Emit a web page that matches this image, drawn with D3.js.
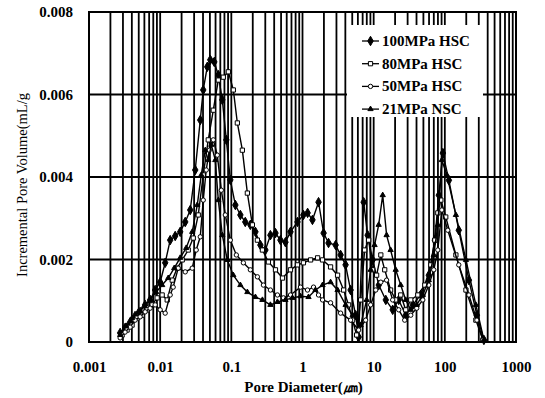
<!DOCTYPE html>
<html>
<head>
<meta charset="utf-8">
<script src="https://cdn.jsdelivr.net/npm/d3@7"></script>
<style>
html,body{margin:0;padding:0;background:#fff;}
svg{display:block;}
text{font-family:"Liberation Serif","Times New Roman",serif;font-weight:bold;fill:#000;}
</style>
</head>
<body>
<svg id="chart" width="545" height="398"></svg>
<script>
// ---- data (pore diameter in µm, incremental pore volume in mL/g) ----
const seriesNames = ["100MPa HSC", "80MPa HSC", "50MPa HSC", "21MPa NSC"];

const dA = [0.00274,0.00321,0.00378,0.00444,0.00523,0.00615,0.00723,0.0085,0.01,0.01176,
 0.01383,0.01626,0.01913,0.0225,0.02646,0.0311,0.0366,0.0403,0.0459,0.0506,
 0.0576,0.0656,0.0747,0.0851,0.0968,0.114,0.134,0.157,0.185,0.218,
 0.256,0.301,0.354,0.417,0.49,0.576,0.678,0.85,1.03,1.18,
 1.38,1.68,1.98,2.32,2.92,3.43,4.03,4.74,5.58,6.15,
 7.23,8.23,9.68,11.8,14.8,18.5,22.5,28.2,35.4,45.9,
 59.5,72.3,82.3,93.8,114,157,218,282,354];
const vA = [0.00022,0.00034,0.00048,0.00063,0.00073,0.0009,0.00102,0.00126,0.00145,0.00192,
 0.00247,0.00257,0.00267,0.00291,0.0032,0.00417,0.00538,0.00611,0.00667,0.00684,
 0.00679,0.00647,0.00587,0.0049,0.00393,0.00332,0.00308,0.00291,0.00284,0.00267,
 0.00235,0.00223,0.00259,0.00264,0.00247,0.00242,0.00267,0.00291,0.00308,0.00313,
 0.00296,0.00339,0.00264,0.0024,0.00235,0.00211,0.00187,0.00126,0.00065,0.00012,
 0.00339,0.00259,0.00199,0.00138,0.00102,0.00078,0.00102,0.00065,0.0009,0.00114,
 0.00162,0.00247,0.00356,0.00458,0.00392,0.00271,0.0015,0.00065,0.00005];

const dB = [0.00292,0.00343,0.00403,0.00474,0.00558,0.00656,0.00771,0.00907,0.01067,0.01256,
 0.01476,0.01735,0.02042,0.0248,0.02917,0.0343,0.0403,0.0474,0.0558,0.0656,
 0.0771,0.0908,0.1067,0.1215,0.1429,0.168,0.1976,0.2323,0.2733,0.332,
 0.417,0.523,0.678,0.85,1.03,1.30,1.63,1.91,2.48,3.11,
 3.78,4.44,5.06,5.76,6.56,7.47,8.50,9.68,11.0,12.6,
 14.3,17.3,20.4,24.0,28.2,33.2,41.7,52.3,63.5,72.3,
 79.7,87.9,103,143,198,273,343];
const vB = [0.00017,0.00029,0.00041,0.00058,0.00065,0.00078,0.0009,0.00107,0.00114,0.00102,
 0.0015,0.00179,0.00199,0.00223,0.00252,0.00308,0.00405,0.0049,0.00562,0.00635,
 0.00642,0.00655,0.00611,0.00531,0.00465,0.00361,0.00284,0.00247,0.00223,0.00194,
 0.00175,0.00155,0.00175,0.00187,0.00192,0.00199,0.00204,0.00199,0.00182,0.00162,
 0.00126,0.0009,0.00053,0.00017,0.00102,0.00223,0.00247,0.00175,0.00162,0.00211,
 0.00175,0.00126,0.00102,0.00114,0.00078,0.00102,0.00114,0.00138,0.00187,0.00247,
 0.00313,0.00344,0.00303,0.00211,0.00126,0.00053,0.00005];

const dC = [0.00274,0.00321,0.00378,0.00444,0.00523,0.00615,0.00723,0.0085,0.01,0.01176,
 0.01383,0.01524,0.01793,0.0225,0.02822,0.0321,0.0366,0.0403,0.0444,0.049,
 0.0558,0.0635,0.0723,0.0823,0.0968,0.1176,0.1476,0.185,0.2323,0.2823,
 0.354,0.4444,0.54,0.678,0.937,1.176,1.429,1.679,1.913,2.48,
 3.43,4.74,6.15,7.71,9.07,10.7,12.6,15.2,18.5,22.5,
 27.3,33.2,40.3,49.0,59.5,70.0,79.7,90.7,110,157,
 218,282,343];
const vC = [0.0001,0.00024,0.00036,0.00053,0.00061,0.00073,0.00082,0.0009,0.00078,0.0007,
 0.00114,0.00133,0.00179,0.0017,0.00179,0.00223,0.00255,0.00344,0.00417,0.00465,
 0.0049,0.00453,0.00368,0.00308,0.00247,0.00211,0.00192,0.00175,0.00158,0.00138,
 0.00126,0.00114,0.00107,0.00114,0.00133,0.00126,0.00133,0.00114,0.00102,0.00095,
 0.0007,0.00053,0.00029,0.00053,0.0009,0.00126,0.00145,0.0015,0.00102,0.00078,
 0.00053,0.00065,0.00082,0.00102,0.00138,0.00175,0.00223,0.0032,0.00271,0.00187,
 0.00114,0.00053,0.00005];

const dD = [0.00274,0.00332,0.00403,0.0049,0.00595,0.00723,0.00878,0.01067,0.01297,0.01575,
 0.01913,0.02323,0.02822,0.0332,0.0378,0.043,0.0474,0.0523,0.0595,0.0656,
 0.0747,0.0879,0.1067,0.134,0.168,0.218,0.2733,0.354,0.4444,0.576,
 0.7228,0.937,1.215,1.52,1.913,2.48,3.11,4.03,5.06,6.56,
 7.97,9.07,10.3,11.76,13.4,15.2,17.3,20.4,24.0,28.2,
 33.2,40.3,49.0,59.5,70.0,79.7,90.7,106.7,143,198,
 273,354];
const vD = [0.00017,0.00039,0.00058,0.00073,0.00087,0.00102,0.00121,0.00138,0.00155,0.00179,
 0.00204,0.00228,0.00267,0.00332,0.00405,0.00465,0.00441,0.00478,0.00441,0.00344,
 0.00259,0.00199,0.00162,0.00138,0.00121,0.00109,0.00102,0.0009,0.00097,0.00102,
 0.00107,0.00111,0.00109,0.00126,0.00138,0.00145,0.00126,0.0009,0.00065,0.00041,
 0.00102,0.00175,0.00235,0.00284,0.00356,0.00259,0.00223,0.00175,0.00138,0.00102,
 0.00078,0.0009,0.00114,0.0015,0.00211,0.00284,0.00441,0.00405,0.00308,0.00199,
 0.0009,0.00005];

const xTicks = [0.001, 0.01, 0.1, 1, 10, 100, 1000];
const xTickLabels = ["0.001", "0.01", "0.1", "1", "10", "100", "1000"];
const yTicks = [0, 0.002, 0.004, 0.006, 0.008];
const yTickLabels = ["0", "0.002", "0.004", "0.006", "0.008"];
const xTitle = "Pore Diameter(\u339B)";
const yTitle = "Incremental Pore Volume(mL/g";

// ---- layout ----
const svg = d3.select("#chart");
const L = 89, R = 516, T = 12, B = 342;
const x = d3.scaleLog().domain([0.001, 1000]).range([L, R]);
const y = d3.scaleLinear().domain([0, 0.008]).range([B, T]);

// vertical grid: 1..9 in every decade
const vgrid = [];
for (let e = -3; e < 3; e++) for (let k = 1; k <= 9; k++) vgrid.push(k * Math.pow(10, e));
svg.append("g").selectAll("line").data(vgrid).join("line")
  .attr("x1", d => x(d)).attr("x2", d => x(d))
  .attr("y1", T).attr("y2", B)
  .attr("stroke", "#000").attr("stroke-width", 1.8);

svg.append("g").selectAll("line").data(yTicks.slice(1, -1)).join("line")
  .attr("x1", L).attr("x2", R)
  .attr("y1", d => y(d)).attr("y2", d => y(d))
  .attr("stroke", "#000").attr("stroke-width", 1.8);

// series
const symbols = [d3.symbolDiamond, d3.symbolSquare, d3.symbolCircle, d3.symbolTriangle];
const sizes = [26, 18, 15, 12];
const fills = ["#000", "#fff", "#fff", "#000"];
const all = [[dA, vA], [dB, vB], [dC, vC], [dD, vD]];
const line = d3.line().x(p => x(p[0])).y(p => y(p[1]));

all.forEach((s, i) => {
  const pts = s[0].map((d, j) => [d, s[1][j]]);
  const g = svg.append("g");
  g.append("path").attr("d", line(pts))
    .attr("fill", "none").attr("stroke", "#000").attr("stroke-width", 1.4);
  g.selectAll("path.m").data(pts).join("path").attr("class", "m")
    .attr("transform", p => `translate(${x(p[0])},${y(p[1])})`)
    .attr("d", d3.symbol().type(symbols[i]).size(sizes[i]))
    .attr("fill", fills[i]).attr("stroke", "#000").attr("stroke-width", 1);
});

// frame
svg.append("rect").attr("x", L).attr("y", T).attr("width", R - L).attr("height", B - T)
  .attr("fill", "none").attr("stroke", "#000").attr("stroke-width", 2);

// axes labels
const xAxis = d3.axisBottom(x).tickValues(xTicks).tickFormat((d, i) => xTickLabels[i]).tickSize(0).tickPadding(0);
const gx = svg.append("g").attr("transform", `translate(0,${B})`).call(xAxis);
gx.select(".domain").remove();
gx.selectAll("text").attr("dy", null).attr("y", 30).style("font-size", "15px")
  .style("font-family", "'Liberation Serif',serif").style("font-weight", "bold");

const yAxis = d3.axisLeft(y).tickValues(yTicks).tickFormat((d, i) => yTickLabels[i]).tickSize(0).tickPadding(16);
const gy = svg.append("g").attr("transform", `translate(${L},0)`).call(yAxis);
gy.select(".domain").remove();
gy.selectAll("text").style("font-size", "15px")
  .style("font-family", "'Liberation Serif',serif").style("font-weight", "bold");

svg.append("text").attr("x", (L + R) / 2 + 1).attr("y", 392).attr("text-anchor", "middle")
  .style("font-size", "15px").text(xTitle);
svg.append("text").attr("transform", `translate(27,${(T + B) / 2 + 8}) rotate(-90)`)
  .attr("text-anchor", "middle").style("font-size", "14.5px").style("font-weight", "normal").text(yTitle);

// legend
const lg = svg.append("g");
lg.append("rect").attr("x", 347).attr("y", 25).attr("width", 136).attr("height", 92).attr("fill", "#fff");
seriesNames.forEach((n, i) => {
  const yy = 41 + i * 22.7;
  lg.append("line").attr("x1", 362).attr("x2", 379).attr("y1", yy).attr("y2", yy)
    .attr("stroke", "#000").attr("stroke-width", 1.3);
  lg.append("path").attr("transform", `translate(370.5,${yy})`)
    .attr("d", d3.symbol().type(symbols[i]).size(sizes[i]))
    .attr("fill", fills[i]).attr("stroke", "#000").attr("stroke-width", 1);
  lg.append("text").attr("x", 382).attr("y", yy + 5).style("font-size", "15px").text(n);
});
</script>
</body>
</html>
